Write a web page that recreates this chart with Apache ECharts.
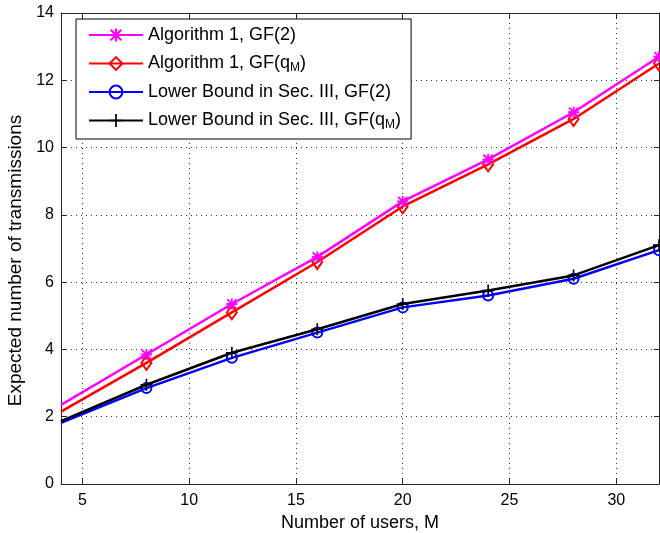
<!DOCTYPE html>
<html>
<head>
<meta charset="utf-8">
<script src="https://cdn.jsdelivr.net/npm/echarts@6/dist/echarts.min.js"></script>
<style>
html,body{margin:0;padding:0;background:#fff;}
#chart{width:660px;height:533px;}
</style>
</head>
<body>
<div id="chart"></div>
<script>
// ---- data ----
const users = [4, 8, 12, 16, 20, 24, 28, 32];
const alg1GF2 = [2.35, 3.85, 5.35, 6.75, 8.4, 9.65, 11.05, 12.7];
const alg1GFq = [2.15, 3.6, 5.1, 6.6, 8.25, 9.5, 10.85, 12.5];
const lbGF2 = [1.82, 2.85, 3.75, 4.5, 5.25, 5.6, 6.1, 6.95];
const lbGFq = [1.87, 2.95, 3.9, 4.6, 5.35, 5.75, 6.2, 7.1];
const xTicks = [5, 10, 15, 20, 25, 30];
const yTicks = [0, 2, 4, 6, 8, 10, 12, 14];
const seriesNames = [
  'Algorithm 1, GF(2)',
  'Algorithm 1, GF(qM)',
  'Lower Bound in Sec. III, GF(2)',
  'Lower Bound in Sec. III, GF(qM)'
];

const asterisk = 'path://M5,0L7,0L7,12L5,12Z M0,5L12,5L12,7L0,7Z M0.3,1.7L1.7,0.3L11.7,10.3L10.3,11.7Z M10.3,0.3L11.7,1.7L1.7,11.7L0.3,10.3Z';
const plus = 'path://M5.2,0L6.8,0L6.8,12L5.2,12Z M0,5.2L12,5.2L12,6.8L0,6.8Z';

function mk(vals) {
  return users.map((x, i) => i === 0 ? { value: [x, vals[i]], symbol: 'none' } : [x, vals[i]]);
}

const chart = echarts.init(document.getElementById('chart'), null, { renderer: 'canvas' });
const FONT = 'Liberation Sans, Arial, sans-serif';
const axisCol = '#262626';

const common = { clip: true, animation: false, showSymbol: true };

chart.setOption({
  animation: false,
  backgroundColor: '#fff',
  grid: { left: 61, right: 1, top: 13, bottom: 49, containLabel: false, outerBoundsMode: 'none' },
  legend: {
    orient: 'vertical',
    left: 76,
    top: 19,
    padding: [6, 10, 8, 12],
    itemGap: 8,
    itemWidth: 54,
    itemHeight: 16,
    backgroundColor: '#fff',
    borderColor: '#000',
    borderWidth: 1,
    borderRadius: 0,
    data: seriesNames,
    formatter: function (name) {
      if (name.indexOf('qM') >= 0) {
        const parts = name.split('qM');
        return '{a|' + parts[0] + 'q}{s|M}{a|' + parts[1] + '}';
      }
      return '{a|' + name + '}';
    },
    textStyle: {
      color: '#000',
      fontFamily: FONT,
      fontSize: 18,
      lineHeight: 20,
      rich: {
        a: { fontFamily: FONT, fontSize: 18, color: '#000', lineHeight: 20 },
        s: { fontFamily: FONT, fontSize: 12, color: '#000', lineHeight: 12, padding: [9, 0, 0, 0] }
      }
    }
  },
  xAxis: [{
    type: 'value', min: 4, max: 32,
    name: 'Number of users, M', nameLocation: 'middle', nameGap: 28,
    nameTextStyle: { fontFamily: FONT, fontSize: 18, color: '#000' },
    axisLine: { show: true, lineStyle: { color: axisCol, width: 1 } },
    axisTick: { show: true, inside: true, length: 5, customValues: xTicks, lineStyle: { color: axisCol } },
    axisLabel: { customValues: xTicks, fontFamily: FONT, fontSize: 16, color: '#000', margin: 9 },
    splitLine: { show: true, lineStyle: { color: '#333', width: 1, type: [1, 4] } }
  }, {
    type: 'value', min: 4, max: 32, position: 'top',
    axisLine: { show: true, onZero: false, lineStyle: { color: axisCol, width: 1 } },
    axisTick: { show: true, inside: true, length: 5, customValues: xTicks, lineStyle: { color: axisCol } },
    axisLabel: { show: false, customValues: xTicks },
    splitLine: { show: false }
  }],
  yAxis: [{
    type: 'value', min: 0, max: 14, interval: 2,
    name: 'Expected number of transmissions', nameLocation: 'middle', nameGap: 31,
    nameTextStyle: { fontFamily: FONT, fontSize: 19, color: '#000', padding: [0, 24, 0, 0] },
    axisLine: { show: true, lineStyle: { color: axisCol, width: 1 } },
    axisTick: { show: true, inside: true, length: 5, lineStyle: { color: axisCol } },
    axisLabel: { fontFamily: FONT, fontSize: 16, color: '#000', margin: 7 },
    splitLine: { show: true, lineStyle: { color: '#333', width: 1, type: [1, 4] } }
  }, {
    type: 'value', min: 0, max: 14, interval: 2, position: 'right',
    axisLine: { show: true, onZero: false, lineStyle: { color: axisCol, width: 1 } },
    axisTick: { show: true, inside: true, length: 5, lineStyle: { color: axisCol } },
    axisLabel: { show: false },
    splitLine: { show: false }
  }],
  series: [
    Object.assign({}, common, {
      name: seriesNames[0], type: 'line', data: mk(alg1GF2),
      symbol: asterisk, symbolSize: 11,
      lineStyle: { color: '#ff00ff', width: 2.5 },
      itemStyle: { color: '#ff00ff', borderWidth: 0 }, z: 4
    }),
    Object.assign({}, common, {
      name: seriesNames[1], type: 'line', data: mk(alg1GFq),
      symbol: 'diamond', symbolSize: [10, 14],
      lineStyle: { color: '#ff0000', width: 2.5 },
      itemStyle: { color: 'rgba(255,255,255,0)', borderColor: '#ff0000', borderWidth: 2 }, z: 3
    }),
    Object.assign({}, common, {
      name: seriesNames[2], type: 'line', data: mk(lbGF2),
      symbol: 'circle', symbolSize: 10,
      lineStyle: { color: '#0000ff', width: 2.5 },
      itemStyle: { color: 'rgba(255,255,255,0)', borderColor: '#0000ff', borderWidth: 2 }, z: 3
    }),
    Object.assign({}, common, {
      name: seriesNames[3], type: 'line', data: mk(lbGFq),
      symbol: plus, symbolSize: 12,
      lineStyle: { color: '#000000', width: 2.5 },
      itemStyle: { color: '#000000', borderWidth: 0 }, z: 4
    })
  ]
});
</script>
</body>
</html>
